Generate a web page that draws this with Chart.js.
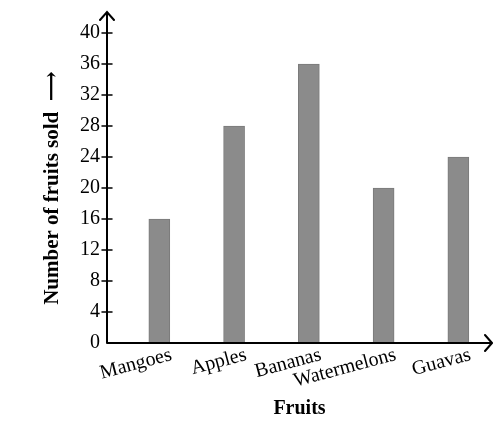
<!DOCTYPE html>
<html>
<head>
<meta charset="utf-8">
<script src="https://cdn.jsdelivr.net/npm/chart.js@4"></script>
<style>
  html, body { margin: 0; padding: 0; background: #fff; }
  #wrap { width: 493px; height: 425px; }
</style>
</head>
<body>
<div id="wrap"><canvas id="chart"></canvas></div>
<script>
const fruits = ["Mangoes", "Apples", "Bananas", "Watermelons", "Guavas"];
const sold = [16, 28, 36, 20, 24];
const yMax = 40;
const yStep = 4;

const ink = "#000";
const serif = "'Liberation Serif', 'DejaVu Serif', serif";

// axes drawn by hand: arrows on both lines, ticks crossing the y axis
const axesPlugin = {
  id: "axes",
  afterDatasetsDraw(chart) {
    const { ctx, chartArea: a, scales } = chart;
    const y = scales.y;
    ctx.save();
    ctx.strokeStyle = ink;
    ctx.lineWidth = 2;
    ctx.lineCap = "round";
    ctx.beginPath();
    ctx.moveTo(a.left, a.bottom);
    ctx.lineTo(a.left, a.top - 21);
    ctx.moveTo(a.left - 7, a.top - 13);
    ctx.lineTo(a.left, a.top - 21);
    ctx.lineTo(a.left + 7, a.top - 13);
    ctx.moveTo(a.left, a.bottom);
    ctx.lineTo(a.right, a.bottom);
    ctx.moveTo(a.right - 7, a.bottom - 8);
    ctx.lineTo(a.right, a.bottom);
    ctx.lineTo(a.right - 7, a.bottom + 8);
    ctx.stroke();
    ctx.lineWidth = 1.5;
    ctx.beginPath();
    y.ticks.forEach((t) => {
      if (t.value === 0) return;
      const py = y.getPixelForValue(t.value);
      ctx.moveTo(a.left - 5, py);
      ctx.lineTo(a.left + 5, py);
    });
    ctx.stroke();
    ctx.restore();
  },
};

new Chart(document.getElementById("chart"), {
  type: "bar",
  data: {
    datasets: [{
      data: sold.map((v, i) => ({ x: i, y: v })),
      backgroundColor: "#8b8b8b",
      borderColor: "#7a7a7a",
      borderWidth: 1,
      barThickness: 21,
    }],
  },
  options: {
    responsive: true,
    maintainAspectRatio: false,
    animation: false,
    layout: { padding: { top: 33, right: 1, left: 0, bottom: 0 } },
    plugins: {
      legend: { display: false },
      tooltip: { enabled: false },
    },
    scales: {
      x: {
        type: "linear",
        offset: false,
        min: -0.7,
        max: fruits.length - 0.55,
        grid: { display: false },
        border: { display: false },
        ticks: {
          stepSize: 1,
          includeBounds: false,
          callback: (v) => fruits[v],
          color: ink,
          font: { family: serif, size: 20 },
          autoSkip: false,
          minRotation: 15,
          maxRotation: 15,
          padding: -8,
          labelOffset: 12,
        },
        title: {
          display: true,
          text: "Fruits",
          color: ink,
          font: { family: serif, size: 20, weight: "bold" },
          padding: { top: 0, bottom: 4 },
        },
        afterFit(scale) { scale.height = 82; },
      },
      y: {
        min: 0,
        max: yMax,
        grid: { display: false, drawTicks: false },
        border: { display: false },
        ticks: {
          stepSize: yStep,
          color: ink,
          font: { family: serif, size: 20 },
          padding: 7,
        },
        title: {
          display: true,
          text: "Number of fruits sold  \u27F6",
          color: ink,
          font: { family: serif, size: 21, weight: "bold" },
          padding: { top: 40, bottom: 0 },
        },
        afterFit(scale) { scale.width = 107; },
      },
    },
  },
  plugins: [axesPlugin],
});
</script>
</body>
</html>
